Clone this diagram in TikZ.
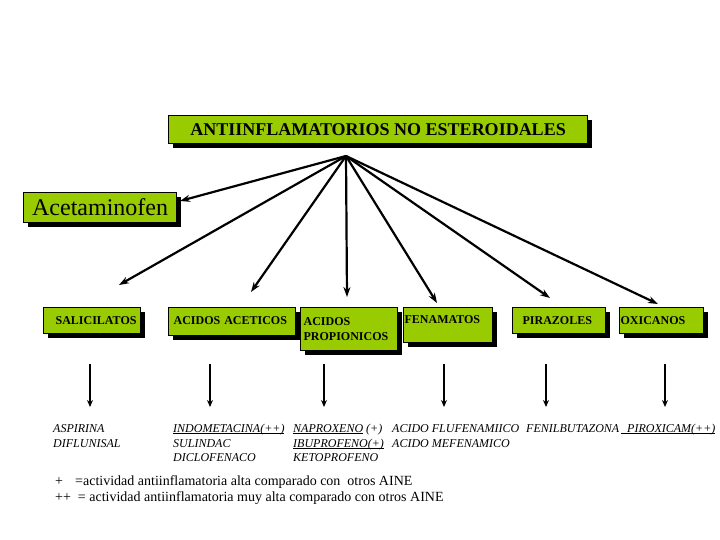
\documentclass[tikz,border=0pt]{standalone}
\usepackage{fontspec}
\setmainfont{Liberation Serif}
\usetikzlibrary{arrows.meta,shadows}
\definecolor{boxgreen}{RGB}{153,204,0}
\newcommand\ulx[1]{\setbox0\hbox{#1}\rlap{\rule[-2.2pt]{\wd0}{1.1pt}}\box0\relax}
\begin{document}
\begin{tikzpicture}[x=1pt,y=-1pt,
  gbox/.style={draw=black,line width=1.2pt,fill=boxgreen,inner sep=0pt,anchor=north west,
    drop shadow={shadow xshift=4pt,shadow yshift=-4pt,fill=black,opacity=1}},
  cat/.style={gbox,font=\bfseries\fontsize{12}{15}\selectfont,align=left},
  hubarrow/.style={line width=2.2pt,-{Stealth[length=10pt,width=7pt]}},
  downarrow/.style={line width=1.4pt,-{Stealth[length=7pt,width=6pt]}},
  drug/.style={anchor=base west,inner sep=0pt,font=\itshape\fontsize{12}{14}\selectfont},
  legend/.style={anchor=base west,inner sep=0pt,font=\fontsize{14}{16}\selectfont}]
\useasboundingbox (0,0) rectangle (720,540);

% title
\node[gbox,minimum width=419pt,minimum height=28pt,font=\bfseries\fontsize{18}{20}\selectfont]
  (title) at (168,115) {ANTIINFLAMATORIOS NO ESTEROIDALES};
\node[gbox,minimum width=153pt,minimum height=30pt,font=\fontsize{24}{26}\selectfont]
  (acet) at (23,192) {Acetaminofen};

% categories
\node[cat,text width=97pt,text height=17pt,text depth=9pt] (sal) at (43,307) {\hspace*{12pt}SALICILATOS};
\node[cat,text width=127pt,text height=17pt,text depth=11pt] (aac) at (168,307) {\hspace*{5pt}ACIDOS ACETICOS};
\node[cat,text width=97pt,minimum height=43pt] (apr) at (300,307) {\hspace*{3pt}ACIDOS\\\hspace*{3pt}PROPIONICOS};
\node[cat,text width=89pt,text height=16pt,text depth=19pt] (fen) at (403,307) {\hspace*{1pt}FENAMATOS};
\node[cat,text width=93pt,text height=17pt,text depth=9pt] (pir) at (512,307) {\hspace*{10pt}PIRAZOLES};
\node[cat,text width=84pt,text height=17pt,text depth=9pt] (oxi) at (619,307) {\hspace*{1pt}OXICANOS};

% hub and arrow tips
\coordinate (hub) at (346,156);
\coordinate (tacet) at (180,201);
\coordinate (tsal) at (119,285);
\coordinate (taac) at (251,292);
\coordinate (tapr) at (347,297);
\coordinate (tfen) at (437,303);
\coordinate (tpir) at (550,298);
\coordinate (toxi) at (658,304);
\foreach \t in {tacet,tsal,taac,tapr,tfen,tpir,toxi}
  \draw[hubarrow] (hub) -- (\t);

% vertical arrows
\foreach \n/\x in {1/90,2/210,3/324,4/444,5/546,6/665}{
  \coordinate (s\n) at (\x,364);
  \coordinate (e\n) at (\x,407);
  \draw[downarrow] (s\n) -- (e\n);
}

% drugs
\node[drug] (aspirina) at (53,432) {ASPIRINA};
\node[drug] (diflunisal) at (53,447) {DIFLUNISAL};
\node[drug] (indometacina) at (173,432) {\ulx{INDOMETACINA(++)}};
\node[drug] (sulindac) at (173,447) {SULINDAC};
\node[drug] (diclofenaco) at (173,461) {DICLOFENACO};
\node[drug] (naproxeno) at (293,432) {\ulx{NAPROXENO}\ (+)};
\node[drug] (ibuprofeno) at (293,447) {\ulx{IBUPROFENO(+)}};
\node[drug] (ketoprofeno) at (293,461) {KETOPROFENO};
\node[drug] (flufenamico) at (392,432) {ACIDO FLUFENAMIICO};
\node[drug] (mefenamico) at (392,447) {ACIDO MEFENAMICO};
\node[drug] (fenilbutazona) at (526,432) {FENILBUTAZONA};
\node[drug] (piroxicam) at (621,432) {\ulx{\hspace*{6pt}PIROXICAM(++)}};

% legend
\node[legend] (leg1a) at (55,485) {+};
\node[legend] (leg1b) at (75,485) {=actividad antiinflamatoria alta comparado con\ \ otros AINE};
\node[legend] (leg2) at (55,501) {++\ \ = actividad antiinflamatoria muy alta comparado con otros AINE};
\end{tikzpicture}
\end{document}
